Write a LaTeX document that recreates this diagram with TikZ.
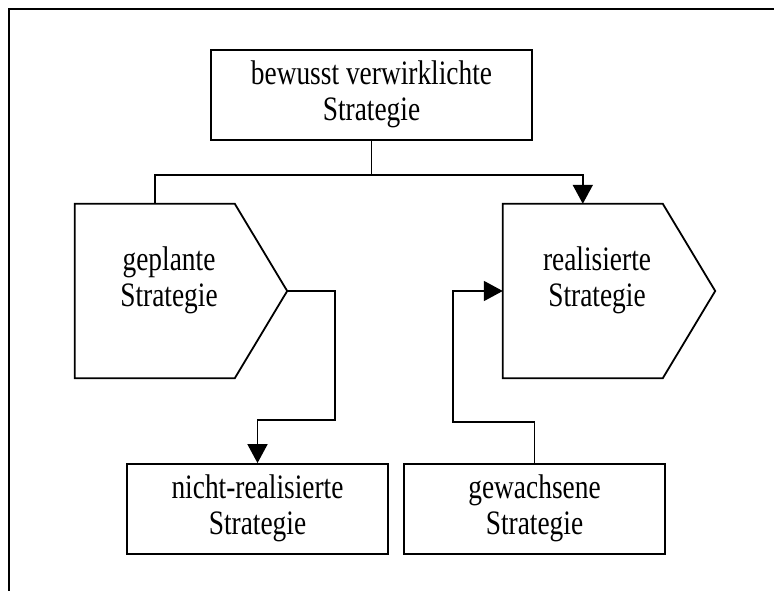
\documentclass[tikz,border=0pt]{standalone}
\usepackage{fontspec}
\setmainfont{Liberation Serif}
\usepackage{graphicx}
\usetikzlibrary{arrows.meta,calc}

% two centred lines, set slightly tall and narrow
\newcommand{\twolines}[2]{\scalebox{1}[1.25]{\begin{tabular}{@{}c@{}}#1\\#2\end{tabular}}}

\begin{document}
\begin{tikzpicture}[x=1pt,y=-1pt,
  every node/.style={font=\fontsize{27.4}{29}\selectfont},
  line/.style={line width=1.8pt, line join=miter},
  arr/.style={line, -{Triangle[length=19pt,width=20pt]}},
  box/.style={draw, line width=1.8pt, inner sep=0pt},
  frame/.style={inner sep=0pt, minimum width=212pt, minimum height=174pt},
  label/.style={inner sep=0pt}]
\useasboundingbox (0,0) rectangle (774,591);

% outer frame (top and left edges)
\draw[line width=2.4pt] (9,591) -- (9,9) -- (774,9);

% boxes
\node[box, minimum width=321pt, minimum height=90pt] (top) at (371.5,95)
  {\twolines{bewusst verwirklichte}{Strategie}};
\node[box, minimum width=261pt, minimum height=90pt] (nr) at (257.5,509)
  {\twolines{nicht-realisierte}{Strategie}};
\node[box, minimum width=261pt, minimum height=90pt] (gw) at (534.5,509)
  {\twolines{gewachsene}{Strategie}};

% arrow-shaped strategy frames
\node[frame] (gp) at (181,291) {};
\node[frame] (rp) at (609,291) {};
\foreach \p in {gp,rp}
  \draw[line] (\p.north west) -- ++(160,0) -- (\p.east)
    -- ($(\p.south west)+(160,0)$) -- (\p.south west) -- cycle;
\node[label] (gpt) at (169,281) {\twolines{geplante}{Strategie}};
\node[label] (rpt) at (597,281) {\twolines{realisierte}{Strategie}};

% connectors
\coordinate (split) at (371.5,175);
\coordinate (gpin) at ($(gp.north west)+(80,0)$);
\coordinate (rpin) at ($(rp.north west)+(80,0)$);
\coordinate (k) at (335,420);
\coordinate (m) at (453,422);
\draw[line] (top.south) -- (split) -| (gpin);
\draw[arr] (split) -| (rpin);
\draw[arr] (gp.east) -| (k) -| (nr.north);
\draw[arr] (gw.north) |- (m) |- (rp.west);
\end{tikzpicture}
\end{document}
